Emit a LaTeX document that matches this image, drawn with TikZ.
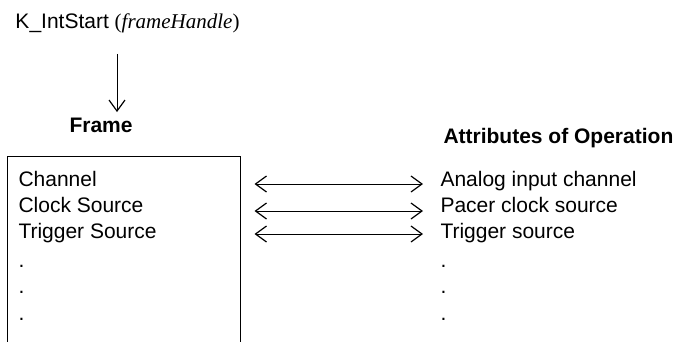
\documentclass[tikz,border=0pt]{standalone}
\usepackage{fontspec}
\setmainfont{Liberation Sans}
\newfontfamily\serifface{Liberation Serif}
\usetikzlibrary{arrows.meta}

\begin{document}
\begin{tikzpicture}[x=1pt,y=-1pt,line width=1pt,font=\fontsize{21pt}{26pt}\selectfont,
    >={Straight Barb[length=11pt,width=16pt,line width=1.2pt]}]
    \tikzstyle{item}=[inner sep=0pt,anchor=base west]
    \tikzstyle{heading}=[item,font=\fontsize{21pt}{26pt}\selectfont\bfseries]
    \tikzstyle{link}=[<->]

    \useasboundingbox (0,0) rectangle (679,341);

    % The call and the frame it starts
    \node[item] (call) at (15,28) {K\_IntStart {\serifface(\textit{frameHandle})}};
    \node[heading] (frame) at (69,132) {Frame};
    \coordinate (callx) at (117,0);
    \draw[->, shorten <=21pt, shorten >=5pt] (call.south -| callx) -- (frame.north -| callx);

    % Draw the frame box (runs off the bottom)
    \node[draw,inner sep=0pt,anchor=north west,minimum width=233pt,minimum height=260pt] (box) at (7,156) {};

    % Fields of the frame
    \node[item] (chan) at (18,186) {Channel};
    \node[item] (clock) at (18,212) {Clock Source};
    \node[item] (trig) at (18,238) {Trigger Source};
    \foreach \y [count=\i] in {267,293,320}
        \node[item] (ldot-\i) at (18,\y) {.};

    % Attributes of operation
    \node[heading] (attr) at (443,143) {Attributes of Operation};
    \node[item] (anain) at (440,186) {Analog input channel};
    \node[item] (pacer) at (440,212) {Pacer clock source};
    \node[item] (trigsrc) at (440,238) {Trigger source};
    \foreach \y [count=\i] in {267,293,320}
        \node[item] (rdot-\i) at (440,\y) {.};

    % Connect each field with its attribute
    \foreach \r/\s in {anain/2, pacer/1, trigsrc/4}
        \draw[link] ([xshift=13.5pt,yshift=\s pt]box.east |- \r.base) -- ([xshift=-17pt,yshift=\s pt]\r.base west);
\end{tikzpicture}
\end{document}
